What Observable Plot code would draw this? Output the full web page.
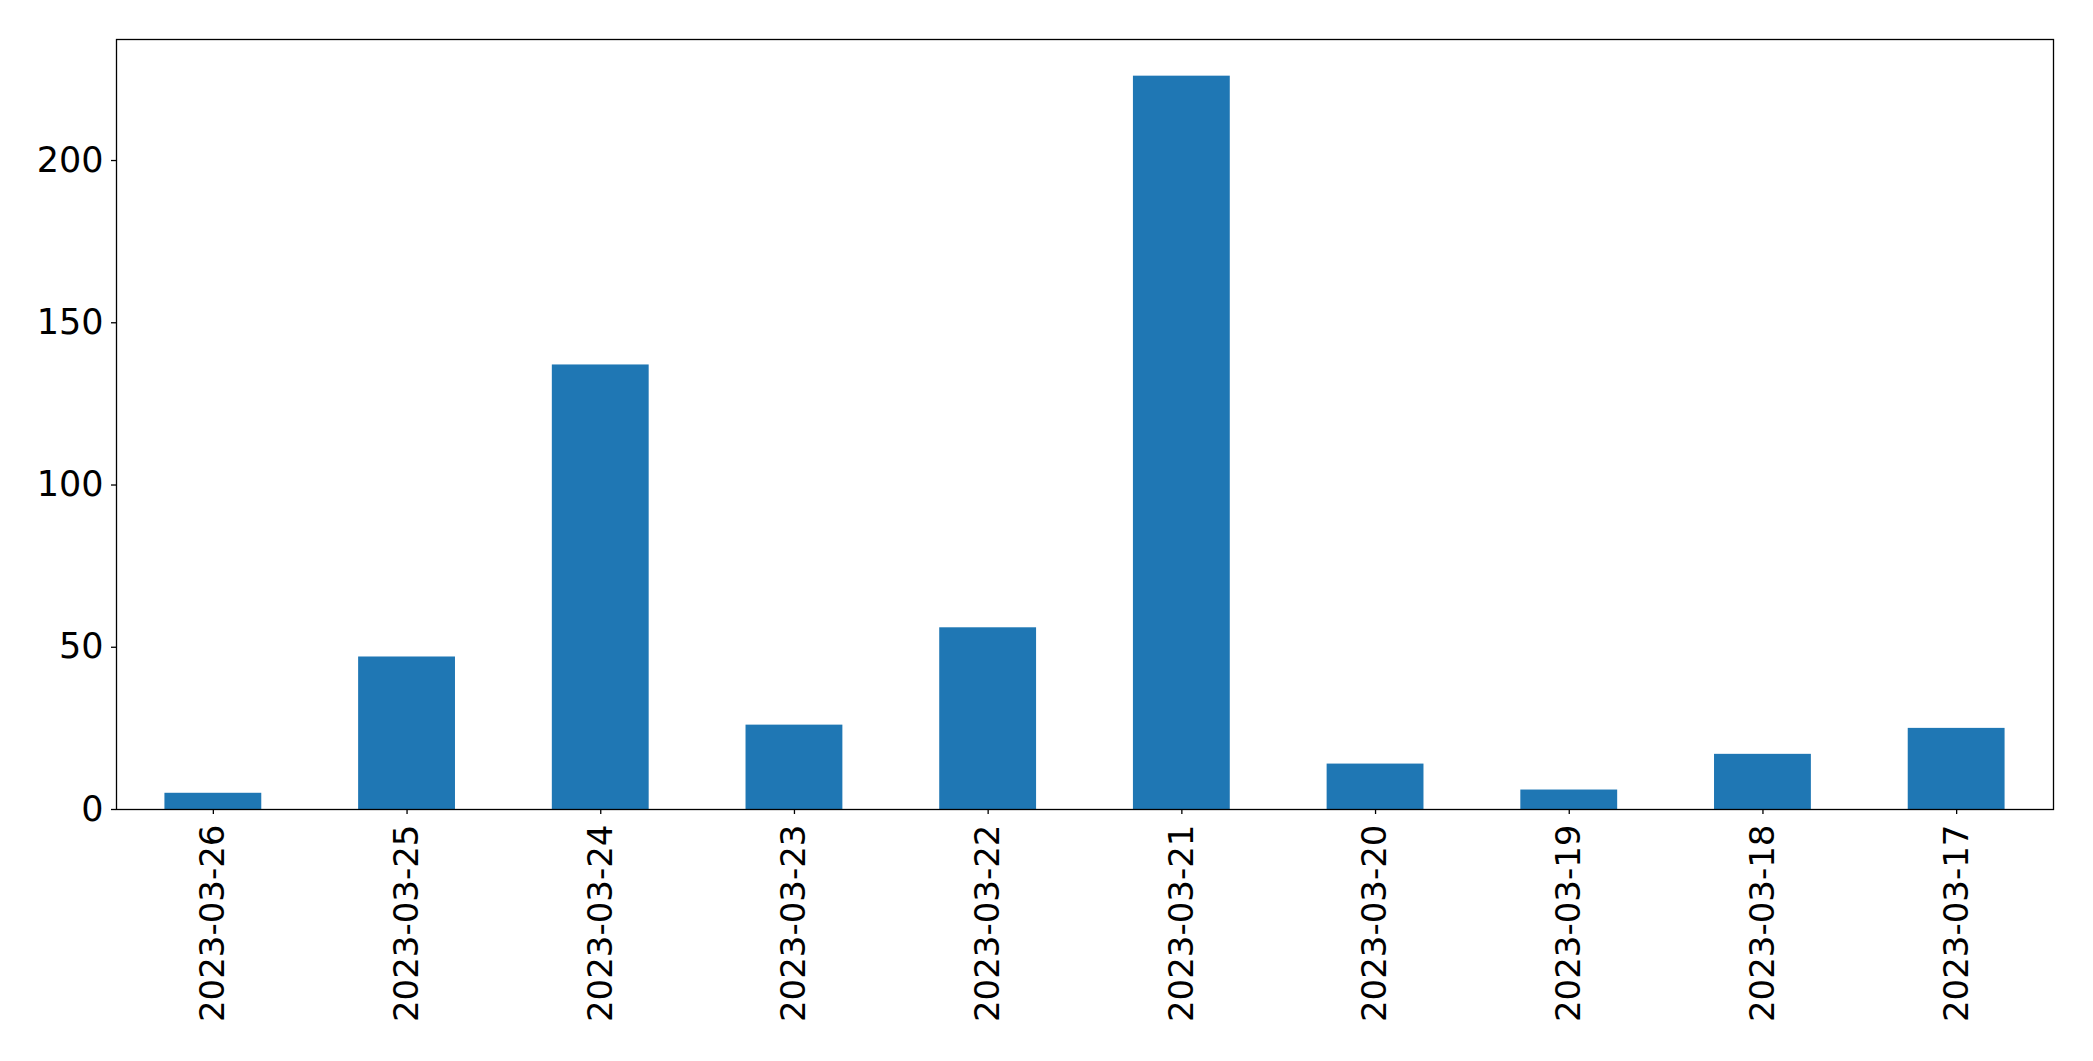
<!DOCTYPE html>
<html>
<head>
<meta charset="utf-8">
<script src="https://cdn.jsdelivr.net/npm/d3@7"></script>
<script src="https://cdn.jsdelivr.net/npm/@observablehq/plot@0.6"></script>
<style>
  html, body { margin: 0; padding: 0; background: #fff; }
  #chart svg { display: block; }
</style>
</head>
<body>
<div id="chart"></div>
<script>
const dates = ["2023-03-26", "2023-03-25", "2023-03-24", "2023-03-23", "2023-03-22",
               "2023-03-21", "2023-03-20", "2023-03-19", "2023-03-18", "2023-03-17"];
const counts = [5, 47, 137, 26, 56, 226, 14, 6, 17, 25];
const yTicks = [0, 50, 100, 150, 200];

const data = dates.map((d, i) => ({date: d, count: counts[i]}));

const chart = Plot.plot({
  width: 2093,
  height: 1061,
  marginLeft: 116,
  marginRight: 40,
  marginTop: 39,
  marginBottom: 252,
  style: {fontFamily: "DejaVu Sans", fontSize: "34px", color: "black", background: "white"},
  x: {domain: dates, paddingInner: 0.5, paddingOuter: 0.25, round: false, label: null},
  y: {domain: [0, 226 * 1.05], label: null},
  marks: [
    Plot.barY(data, {x: "date", y: "count", fill: "#1f77b4"}),
    Plot.axisX({tickRotate: -90, tickSize: 5, tickPadding: 10, fontSize: 34, label: null, stroke: "black", strokeWidth: 1.3}),
    Plot.axisY({ticks: yTicks, tickSize: 5, tickPadding: 8, fontSize: 35, label: null, tickFormat: d => String(d), stroke: "black", strokeWidth: 1.3}),
    Plot.frame({stroke: "black", strokeWidth: 1.3})
  ]
});
document.getElementById("chart").appendChild(chart);
</script>
</body>
</html>
